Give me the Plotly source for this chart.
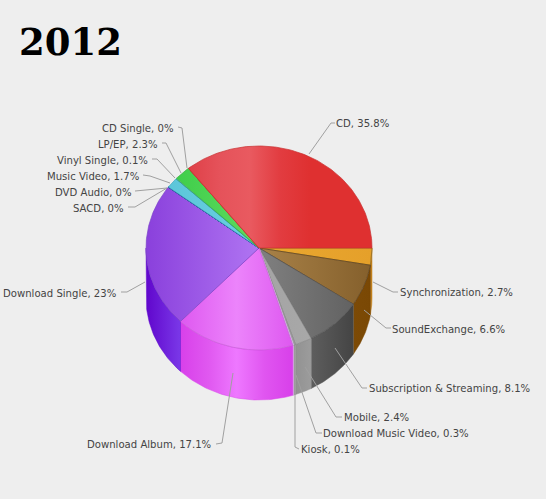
import numpy as np
import plotly.graph_objects as go

# clockwise from 3 o'clock, same order as the reference
categories = ["Synchronization", "SoundExchange", "Subscription & Streaming", "Mobile",
              "Download Music Video", "Kiosk", "Download Album", "Download Single",
              "SACD", "DVD Audio", "Music Video", "Vinyl Single", "LP/EP", "CD Single", "CD"]
values = [2.7, 6.6, 8.1, 2.4, 0.3, 0.1, 17.1, 23, 0, 0, 1.7, 0.1, 2.3, 0, 35.8]

# top face gradient stops, left to right
top_colors = [
    ["#E9A830", "#E5A02A"],
    ["#A98248", "#85602C"],
    ["#808080", "#626262"],
    ["#A4A4A4", "#A8A8A8"],
    ["#A0A0A0", "#A0A0A0"],
    ["#D8B0E8", "#D8B0E8"],
    ["#DE58F0", "#EC84FB", "#DE58F0"],
    ["#8A40DC", "#B075F2"],
    ["#20308A", "#20308A"],
    ["#20308A", "#20308A"],
    ["#5CC6DA", "#6AD0E0"],
    ["#48B8A0", "#48B8A0"],
    ["#3FCE4A", "#62DA60"],
    ["#D84040", "#D84040"],
    ["#DF4048", "#E5525A", "#E95A60", "#E23C40", "#DF3030", "#DF3030", "#DF3030"],
]
wall_colors = [
    ["#B87818", "#C88820"],
    ["#7C4A06", "#7A4804"],
    ["#5E5E5E", "#444444"],
    ["#929292", "#9C9C9C"],
    ["#989898", "#989898"],
    ["#D8B0E8", "#D8B0E8"],
    ["#D840EA", "#E058F0", "#EE78FF", "#E055F0", "#D840EA"],
    ["#6006CC", "#7A38E8"],
]
line_colors = ["#8A6418", "#5A4020", "#505050", "#8A8A8A", "#8A8A8A", "#D8B8EC", "#C860D8",
               "#7A40C8", "#20308A", "#20308A", "#40A8C0", "#38A090", "#38B040", "#C83030", "#C83030"]

# label anchor, side, leader line points (pixels of the page)
label_x = [400, 392, 369, 344, 323, 301, 212, 117, 124, 132, 140, 148, 158, 174, 336]
label_y = [292, 329, 388, 417, 433, 449, 444, 293, 208, 192, 176, 160, 144, 128, 123]
label_side = ["left"] * 6 + ["right"] * 8 + ["left"]
leader_x = [[373, 393, 398], [364, 386, 391], [335, 362, 367], [305, 336, 342], [296, 316, 322],
            [295, 295, 299], [233, 222, 216], [145, 127, 121], [167, 135, 128], [167, 135],
            [170, 150, 143], [175, 157, 152], [181, 166, 162], [187, 182, 178], [309, 331, 335]]
leader_y = [[282, 292, 292], [310, 328, 328], [348, 388, 388], [367, 417, 417], [375, 433, 433],
            [350, 447, 449], [373, 443, 444], [282, 292, 292], [188, 207, 207], [188, 191],
            [183, 176, 175], [178, 159, 159], [173, 143, 143], [168, 128, 127], [154, 123, 123]]

cx, cy = 259, 248
rx, ry = 113, 102
depth = 50


def gradient(colors):
    stops = np.linspace(0, 1, len(colors))
    return dict(type="horizontal", colorscale=[[float(s), c] for s, c in zip(stops, colors)])


fig = go.Figure()

ends = np.cumsum(values) / np.sum(values) * 2 * np.pi
starts = np.concatenate([[0], ends[:-1]])

# side walls first, only the front half of the cylinder shows
for i, name in enumerate(categories):
    if starts[i] >= np.pi or values[i] == 0:
        continue
    t = np.linspace(starts[i], min(ends[i], np.pi), 60)
    ax = cx + rx * np.cos(t)
    ay = cy + ry * np.sin(t)
    fig.add_trace(go.Scatter(
        x=np.concatenate([ax, ax[::-1], ax[:1]]),
        y=np.concatenate([ay, ay[::-1] + depth, ay[:1]]),
        mode="lines", fill="toself", fillgradient=gradient(wall_colors[i]),
        line=dict(color=wall_colors[i][0], width=0.5),
        name=name, hoverinfo="name", showlegend=False,
    ))

for i, name in enumerate(categories):
    t = np.linspace(starts[i], ends[i], 120)
    fig.add_trace(go.Scatter(
        x=np.concatenate([[cx], cx + rx * np.cos(t), [cx]]),
        y=np.concatenate([[cy], cy + ry * np.sin(t), [cy]]),
        mode="lines", fill="toself", fillgradient=gradient(top_colors[i]),
        line=dict(color=line_colors[i], width=0.7),
        name=name, hoverinfo="name", showlegend=False,
    ))

for i, name in enumerate(categories):
    fig.add_trace(go.Scatter(x=leader_x[i], y=leader_y[i], mode="lines",
                             line=dict(color="#A0A0A0", width=1), hoverinfo="skip", showlegend=False))
    fig.add_annotation(x=label_x[i], y=label_y[i], text=f"{name}, {values[i]:g}%", showarrow=False,
                       xanchor=label_side[i], yanchor="middle",
                       xshift=-2 if label_side[i] == "left" else 2,
                       font=dict(family="DejaVu Sans", size=10.1, color="#444444"))

fig.add_annotation(x=17, y=42, text="<b>2012</b>", showarrow=False, xanchor="left", yanchor="middle",
                   font=dict(family="DejaVu Serif", size=37, color="#000000"))

fig.update_layout(
    width=546, height=499,
    margin=dict(l=0, r=0, t=0, b=0),
    paper_bgcolor="#EEEEEE", plot_bgcolor="#EEEEEE",
    xaxis=dict(range=[0, 546], visible=False, fixedrange=True),
    yaxis=dict(range=[499, 0], visible=False, fixedrange=True),
)

fig.write_html("out.html", config=dict(displayModeBar=False),
               post_script="document.body.style.margin='0';document.body.style.background='#EEEEEE';")
